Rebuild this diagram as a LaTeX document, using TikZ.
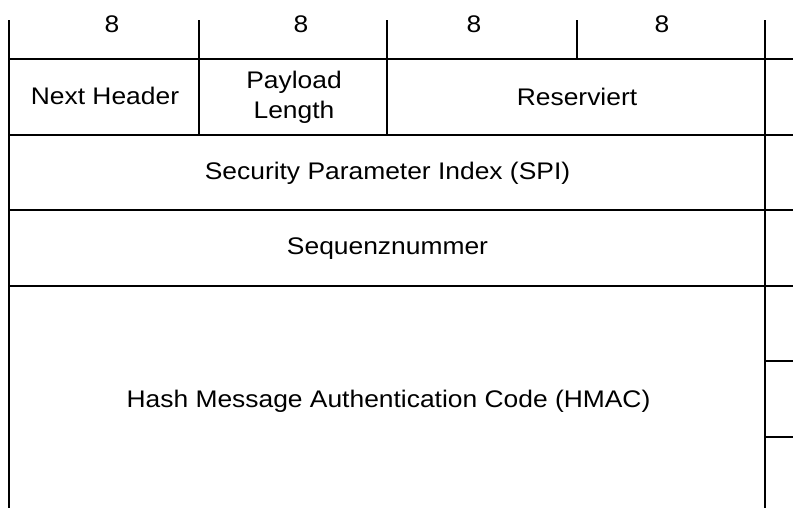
\documentclass[tikz,border=0pt]{standalone}
\usepackage{fontspec}
\setmainfont{Liberation Sans}[FakeStretch=1.1]
\begin{document}
\begin{tikzpicture}[x=1pt,y=-1pt,
  rule/.style={line width=1.6pt, line cap=rect},
  lbl/.style={font=\fontsize{24}{30}\selectfont, inner sep=0pt, anchor=base},
  lbl2/.style={font=\fontsize{24}{30}\selectfont, inner sep=0pt, align=center}]
\useasboundingbox (0,0) rectangle (793,507);
% horizontal rules
\draw[rule] (9,59) -- (793,59);
\draw[rule] (9,135) -- (793,135);
\draw[rule] (9,210) -- (793,210);
\draw[rule] (9,286) -- (793,286);
\draw[rule] (765,361) -- (793,361);
\draw[rule] (765,437) -- (793,437);
% vertical rules
\draw[rule] (9,21) -- (9,507);
\draw[rule] (765,21) -- (765,507);
\draw[rule] (199,21) -- (199,135);
\draw[rule] (387,21) -- (387,135);
\draw[rule] (577,21) -- (577,59);
% bit-width labels
\node[lbl] (w1) at (112,32) {8};
\node[lbl] (w2) at (301,32) {8};
\node[lbl] (w3) at (474,32) {8};
\node[lbl] (w4) at (662,32) {8};
% fields
\node[lbl] (nh) at (105,104) {Next Header};
\node[lbl2] (pl) at (294,97) {Payload\\Length};
\node[lbl] (res) at (577,105) {Reserviert};
\node[lbl] (spi) at (387.5,179) {Security Parameter Index (SPI)};
\node[lbl] (seq) at (387.5,254) {Sequenznummer};
\node[lbl] (hmac) at (388.5,407) {Hash Message Authentication Code (HMAC)};
\end{tikzpicture}
\end{document}
